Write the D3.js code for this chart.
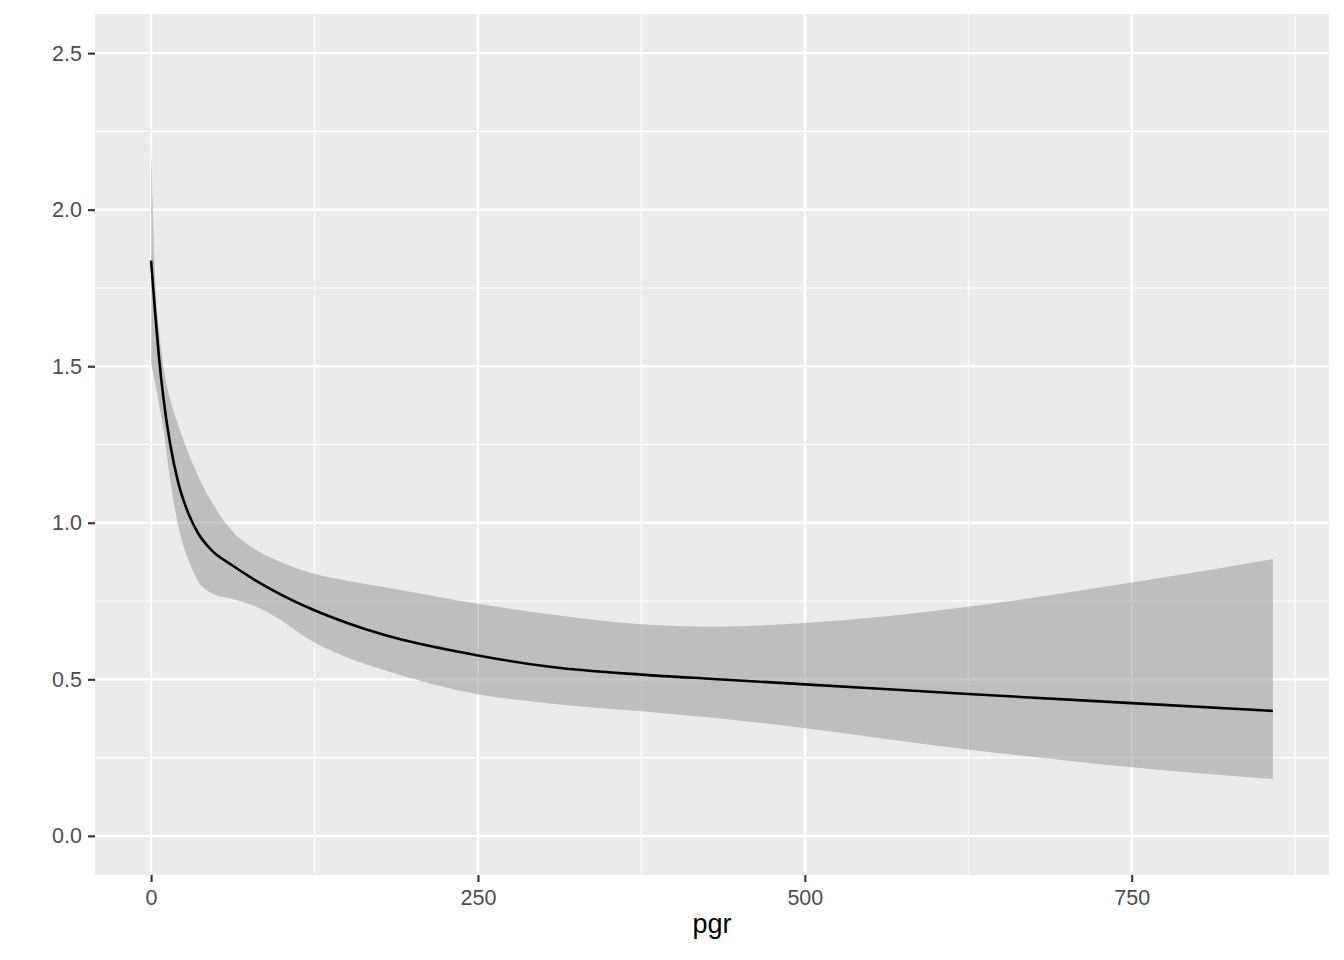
<!DOCTYPE html>
<html>
<head>
<meta charset="utf-8">
<script src="https://cdn.jsdelivr.net/npm/d3@7"></script>
<style>
  html, body { margin: 0; padding: 0; background: #ffffff; }
  svg { display: block; }
  text { font-family: "Liberation Sans", Arial, Helvetica, sans-serif; }
</style>
</head>
<body>
<svg id="chart" width="1344" height="960"></svg>
<script>
// ---- data ----
const pgr   = [0, 3, 6, 9.4, 14.5, 20.9, 28.5, 36.2, 46.4, 61.7, 79.5, 95, 124, 150, 178, 250, 305, 375, 430, 500, 625, 750, 858];
const fit   = [1.837, 1.675, 1.53, 1.40, 1.254, 1.126, 1.03, 0.965, 0.912, 0.865, 0.817, 0.780, 0.722, 0.680, 0.642, 0.576, 0.540, 0.515, 0.501, 0.484, 0.453, 0.424, 0.399];
const upper = [2.21, 1.79, 1.62, 1.50, 1.395, 1.31, 1.222, 1.148, 1.066, 0.975, 0.915, 0.882, 0.838, 0.815, 0.795, 0.741, 0.708, 0.676, 0.668, 0.680, 0.732, 0.809, 0.884];
const lower = [1.51, 1.45, 1.38, 1.30, 1.14, 0.988, 0.881, 0.812, 0.775, 0.757, 0.733, 0.700, 0.620, 0.570, 0.530, 0.452, 0.423, 0.398, 0.377, 0.344, 0.276, 0.219, 0.181];
const xTicks = [0, 250, 500, 750];
const xMinor = [125, 375, 625, 875];
const yTicks = [0, 0.5, 1.0, 1.5, 2.0, 2.5];
const yMinor = [0.25, 0.75, 1.25, 1.75, 2.25];
const xTitle = "pgr";

// ---- layout ----
const panel = { left: 95, right: 1329, top: 14, bottom: 875 };
const xMax = d3.max(pgr);
const xPad = xMax * 0.05;
const x = d3.scaleLinear().domain([-xPad, xMax + xPad]).range([panel.left, panel.right]);
const y = d3.scaleLinear().domain([-0.125, 2.625]).range([panel.bottom, panel.top]);

const svg = d3.select("#chart");

// panel background
svg.append("rect")
  .attr("x", panel.left).attr("y", panel.top)
  .attr("width", panel.right - panel.left).attr("height", panel.bottom - panel.top)
  .attr("fill", "#EBEBEB");

const grid = svg.append("g");
// minor grid
grid.selectAll(".xm").data(xMinor).join("line")
  .attr("x1", d => x(d)).attr("x2", d => x(d))
  .attr("y1", panel.top).attr("y2", panel.bottom)
  .attr("stroke", "#ffffff").attr("stroke-width", 1.07);
grid.selectAll(".ym").data(yMinor).join("line")
  .attr("y1", d => y(d)).attr("y2", d => y(d))
  .attr("x1", panel.left).attr("x2", panel.right)
  .attr("stroke", "#ffffff").attr("stroke-width", 1.07);
// major grid
grid.selectAll(".xM").data(xTicks).join("line")
  .attr("x1", d => x(d)).attr("x2", d => x(d))
  .attr("y1", panel.top).attr("y2", panel.bottom)
  .attr("stroke", "#ffffff").attr("stroke-width", 2.13);
grid.selectAll(".yM").data(yTicks).join("line")
  .attr("y1", d => y(d)).attr("y2", d => y(d))
  .attr("x1", panel.left).attr("x2", panel.right)
  .attr("stroke", "#ffffff").attr("stroke-width", 2.13);

// ribbon
const rows = pgr.map((v, i) => ({ x: v, fit: fit[i], lo: lower[i], hi: upper[i] }));
const area = d3.area()
  .x(d => x(d.x)).y0(d => y(d.lo)).y1(d => y(d.hi))
  .curve(d3.curveMonotoneX);
svg.append("path").datum(rows)
  .attr("d", area)
  .attr("fill", "rgb(145,145,145)")
  .attr("fill-opacity", 0.5);

// fitted line
const line = d3.line().x(d => x(d.x)).y(d => y(d.fit)).curve(d3.curveMonotoneX);
svg.append("path").datum(rows)
  .attr("d", line)
  .attr("fill", "none")
  .attr("stroke", "#000000")
  .attr("stroke-width", 2.6);

// axes
const xAxis = d3.axisBottom(x).tickValues(xTicks).tickSize(7).tickPadding(7.5).tickFormat(d3.format("d"));
const gx = svg.append("g").attr("transform", `translate(0,${panel.bottom})`).call(xAxis);
gx.select(".domain").remove();
gx.selectAll(".tick line").attr("stroke", "#333333").attr("stroke-width", 2.13);
gx.selectAll(".tick text").attr("fill", "#4D4D4D").style("font-size", "21.5px");

const yAxis = d3.axisLeft(y).tickValues(yTicks).tickSize(7).tickPadding(6).tickFormat(d3.format(".1f"));
const gy = svg.append("g").attr("transform", `translate(${panel.left},0)`).call(yAxis);
gy.select(".domain").remove();
gy.selectAll(".tick line").attr("stroke", "#333333").attr("stroke-width", 2.13);
gy.selectAll(".tick text").attr("fill", "#4D4D4D").style("font-size", "21.5px");

// axis title
svg.append("text")
  .attr("x", (panel.left + panel.right) / 2)
  .attr("y", 933)
  .attr("text-anchor", "middle")
  .attr("fill", "#000000")
  .style("font-size", "27px")
  .text(xTitle);
</script>
</body>
</html>
